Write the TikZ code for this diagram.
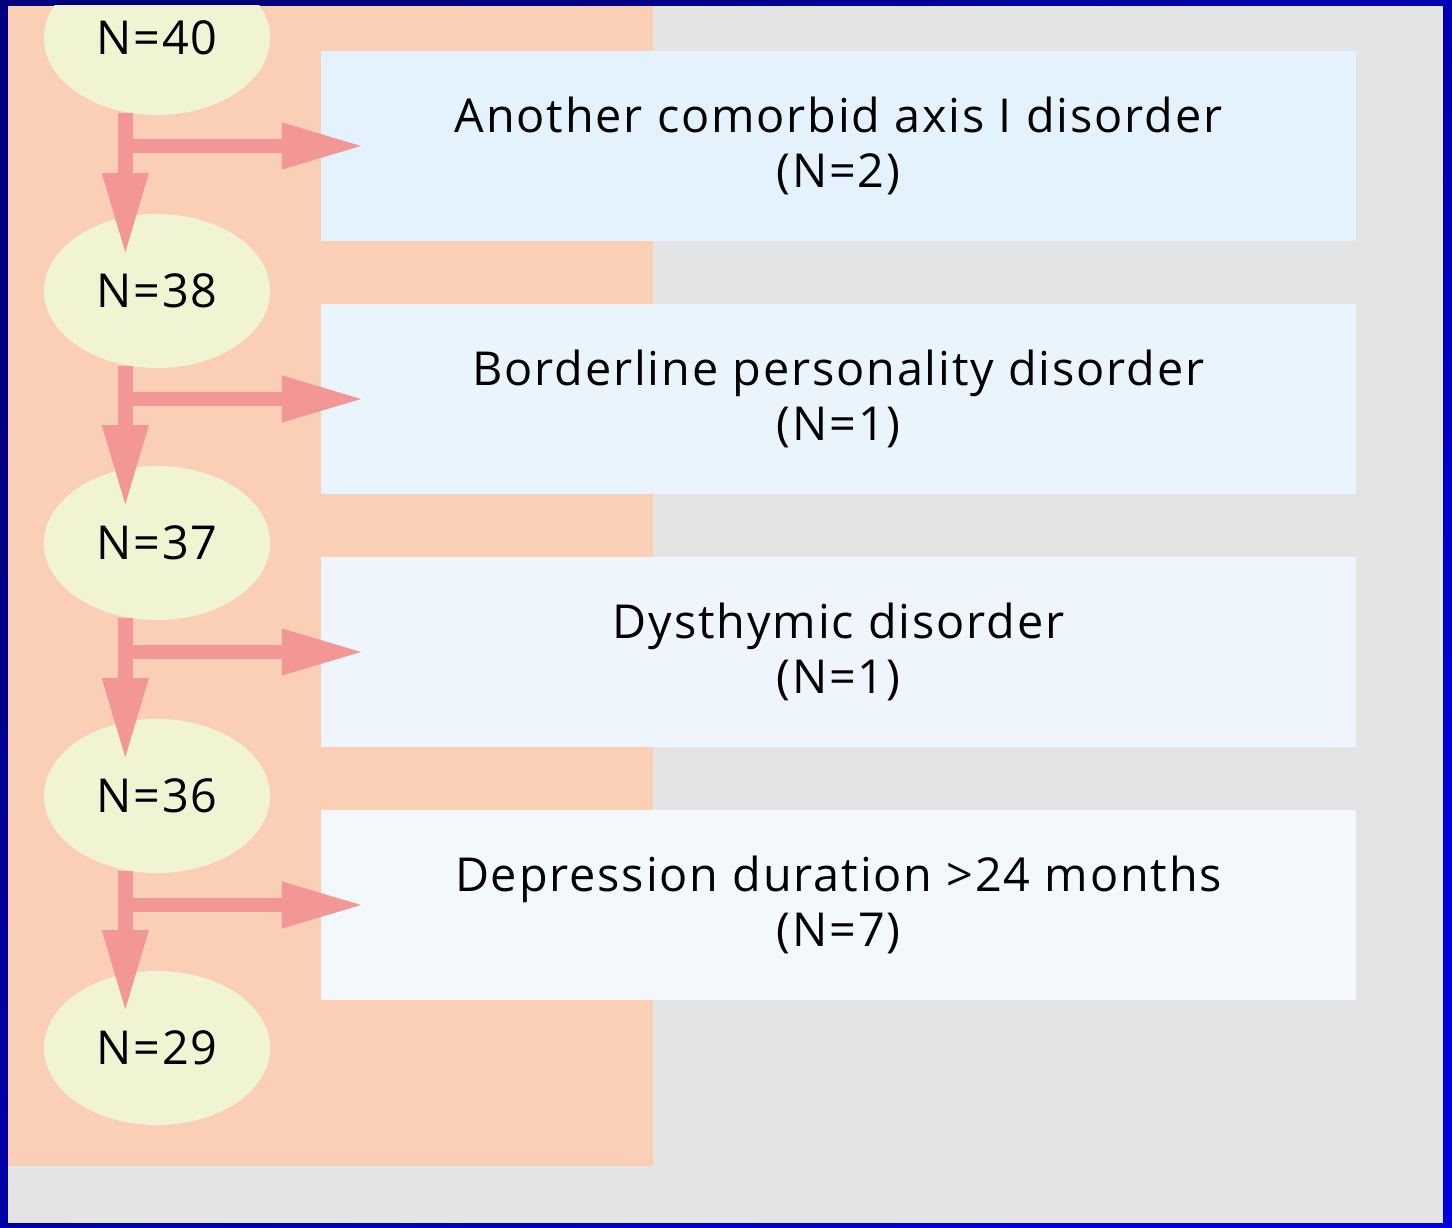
\documentclass[tikz,border=0pt]{standalone}
\usepackage{fontspec}
\setmainfont[LetterSpace=4]{Open Sans}
\usetikzlibrary{positioning,shapes.geometric,arrows.meta,calc}

\definecolor{framenavy}{HTML}{00007E}
\definecolor{frameblue}{HTML}{0000DE}
\definecolor{panelgrey}{HTML}{E4E4E4}
\definecolor{salmonbg}{HTML}{FACFB5}
\definecolor{ovalfill}{HTML}{F0F4D2}
\definecolor{arrowpink}{HTML}{F29696}
\definecolor{boxone}{HTML}{E3F2FC}
\definecolor{boxtwo}{HTML}{EAF4FC}
\definecolor{boxthree}{HTML}{EEF5FD}
\definecolor{boxfour}{HTML}{F3F8FD}

\tikzset{
  countoval/.style={ellipse,
                    fill=ovalfill,
                    minimum width=2.26cm,
                    minimum height=1.54cm,
                    inner sep=0pt,
                    font=\fontsize{13.3}{15}\selectfont},
  reasonbox/.style={rectangle,
                    minimum width=10.35cm,
                    minimum height=1.90cm,
                    inner sep=0pt,
                    align=center,
                    font=\fontsize{13.3}{15.6}\selectfont},
  flowarrow/.style={draw=arrowpink,
                    line width=4.1pt,
                    -{Triangle[length=22.5pt,width=13.4pt,line width=0pt,fill=arrowpink]}}
}

\begin{document}
\begin{tikzpicture}[x=0.01cm,y=-0.01cm]
  \useasboundingbox (0,0) rectangle (1452,1228);
  % frame
  \shade[top color=framenavy,
         bottom color=frameblue,
         shading angle=45] (0,0) rectangle (1452,1228);
  \begin{scope}
    \clip (8,6) rectangle (1443,1223);
    \fill[panelgrey] (8,6) rectangle (1443,1223);
    \fill[salmonbg] (8,6) rectangle (653,1166);

    % counts
    \node[countoval] (n40) at (157,38)   {N=40};
    \node[countoval] (n38) at (157,291)  {N=38};
    \node[countoval] (n37) at (157,543)  {N=37};
    \node[countoval] (n36) at (157,796)  {N=36};
    \node[countoval] (n29) at (157,1048) {N=29};

    % exclusions
    \node[reasonbox, fill=boxone]   (b1) at (838.5,146) {Another comorbid axis I disorder\\(N=2)};
    \node[reasonbox, fill=boxtwo]   (b2) at (838.5,399) {Borderline personality disorder\\(N=1)};
    \node[reasonbox, fill=boxthree] (b3) at (838.5,652) {Dysthymic disorder\\(N=1)};
    \node[reasonbox, fill=boxfour]  (b4) at (838.5,905) {Depression duration >24 months\\(N=7)};

    % arrows
    \draw[flowarrow] (n40.247) -- ($(n40.247 |- n38.north)+(0,39)$);
    \draw[flowarrow] (n40.247 |- b1.west) -- ($(b1.west)+(41,0)$);
    \draw[flowarrow] (n38.247) -- ($(n38.247 |- n37.north)+(0,39)$);
    \draw[flowarrow] (n38.247 |- b2.west) -- ($(b2.west)+(41,0)$);
    \draw[flowarrow] (n37.247) -- ($(n37.247 |- n36.north)+(0,39)$);
    \draw[flowarrow] (n37.247 |- b3.west) -- ($(b3.west)+(41,0)$);
    \draw[flowarrow] (n36.247) -- ($(n36.247 |- n29.north)+(0,39)$);
    \draw[flowarrow] (n36.247 |- b4.west) -- ($(b4.west)+(41,0)$);
  \end{scope}
\end{tikzpicture}
\end{document}
